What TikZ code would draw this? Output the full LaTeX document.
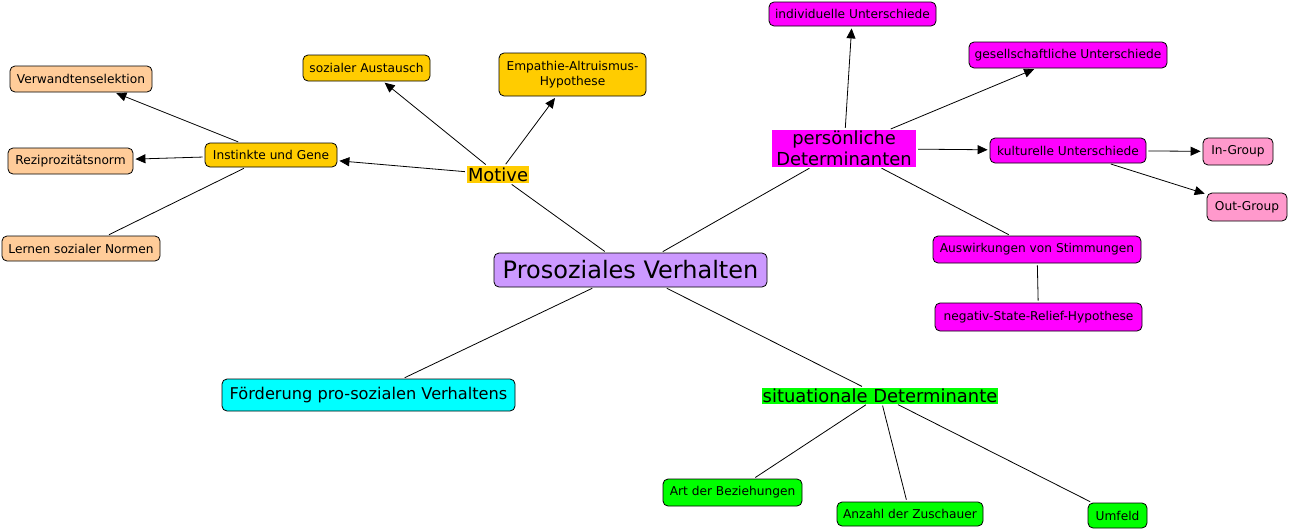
\documentclass[tikz,border=0pt]{standalone}
\usepackage{fontspec}
\setmainfont{DejaVu Sans}
\usetikzlibrary{arrows.meta}
\definecolor{peach}{RGB}{255,204,153}
\definecolor{gold}{RGB}{255,204,0}
\definecolor{lav}{RGB}{204,153,255}
\definecolor{cyanb}{RGB}{0,255,255}
\definecolor{greenb}{RGB}{0,255,0}
\definecolor{mag}{RGB}{255,0,255}
\definecolor{pinkb}{RGB}{255,153,204}
\tikzset{
  box/.style={draw=black, line width=0.8pt, rounded corners=5pt, inner sep=0pt, align=center, font=\fontsize{12.2}{15}\selectfont},
  plain/.style={inner sep=0pt, align=center, font=\fontsize{17.9}{19}\selectfont},
  sz/.style 2 args={minimum width=#1pt, minimum height=#2pt},
  link/.style={line width=0.8pt, shorten <=2pt, shorten >=2pt},
  arr/.style={link, -{Triangle[length=10pt,width=9pt]}}
}
\begin{document}
\begin{tikzpicture}[x=1pt,y=-1pt]
\useasboundingbox (0,0) rectangle (1289,530);
% nodes
\node[box, fill=lav, sz={273}{34}, font=\fontsize{24}{28}\selectfont] (pv) at (630.5,270) {Prosoziales Verhalten};
\node[plain, fill=gold, sz={62}{17}] (mot) at (498,174.5) {Motive};
\node[box, fill=gold, sz={132}{24}] (inst) at (271,155) {Instinkte und Gene};
\node[box, fill=gold, sz={127}{26}] (sa) at (366.5,68) {sozialer Austausch};
\node[box, fill=gold, sz={147}{43}] (emp) at (572.5,74.5) {Empathie-Altruismus-\\Hypothese};
\node[box, fill=peach, sz={142}{26}] (verw) at (81,79) {Verwandtenselektion};
\node[box, fill=peach, sz={125}{26}] (rezi) at (70.5,161) {Reziprozitätsnorm};
\node[box, fill=peach, sz={158}{25}] (lern) at (81,248.5) {Lernen sozialer Normen};
\node[box, fill=cyanb, sz={293}{32}, font=\fontsize{16.2}{19}\selectfont] (foe) at (368.5,395) {Förderung pro-sozialen Verhaltens};
\node[plain, fill=greenb, sz={236}{16}] (sit) at (880,395.5) {situationale Determinante};
\node[box, fill=greenb, sz={139}{27}] (art) at (732.5,492.5) {Art der Beziehungen};
\node[box, fill=greenb, sz={146}{24}] (anz) at (910,514) {Anzahl der Zuschauer};
\node[box, fill=greenb, sz={59}{25}] (umf) at (1117.5,515.5) {Umfeld};
\node[plain, fill=mag, sz={144}{37}, font=\fontsize{17.9}{20.5}\selectfont] (pers) at (844,148.5) {persönliche\\Determinanten};
\node[box, fill=mag, sz={167}{24}] (ind) at (852.5,14) {individuelle Unterschiede};
\node[box, fill=mag, sz={198}{26}] (ges) at (1068,55) {gesellschaftliche Unterschiede};
\node[box, fill=mag, sz={156}{25}] (kul) at (1068,150.5) {kulturelle Unterschiede};
\node[box, fill=pinkb, sz={70}{27}] (ing) at (1238,151.5) {In-Group};
\node[box, fill=pinkb, sz={80}{28}] (outg) at (1247,207) {Out-Group};
\node[box, fill=mag, sz={208}{27}] (ausw) at (1037,249.5) {Auswirkungen von Stimmungen};
\node[box, fill=mag, sz={207}{28}] (neg) at (1038.5,317) {negativ-State-Relief-Hypothese};
% connectors
\draw[link] (pv) -- (mot);
\draw[link] (pv) -- (pers);
\draw[link] (pv) -- (foe);
\draw[link] (pv) -- (sit);
\draw[arr] (mot) -- (inst);
\draw[arr] (mot) -- (sa);
\draw[arr] (mot) -- (emp);
\draw[arr] (inst) -- (verw);
\draw[arr] (inst) -- (rezi);
\draw[link] (inst) -- (lern);
\draw[arr] (pers) -- (ind);
\draw[arr] (pers) -- (ges);
\draw[arr] (pers) -- (kul);
\draw[link] (pers) -- (ausw);
\draw[arr] (kul) -- (ing);
\draw[arr] (kul) -- (outg);
\draw[link] (ausw) -- (neg);
\draw[link] (sit) -- (art);
\draw[link] (sit) -- (anz);
\draw[link] (sit) -- (umf);
\end{tikzpicture}
\end{document}
